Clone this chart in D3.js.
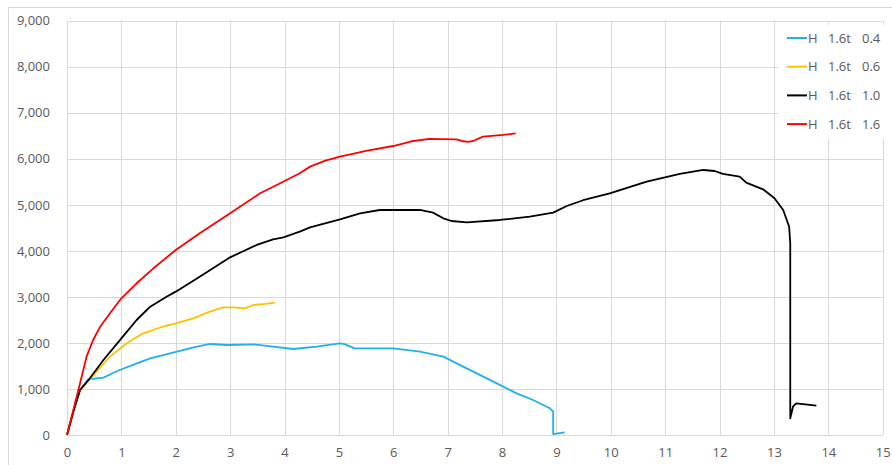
<!DOCTYPE html>
<html><head><meta charset="utf-8">
<script src="https://cdn.jsdelivr.net/npm/d3@7"></script>
<style>body{margin:0;background:#fff}svg{display:block}text{font-family:"Open Sans","Noto Sans",sans-serif}</style>
</head><body>
<script>
const xTicks = d3.range(0, 16, 1);
const yTicks = d3.range(0, 10000, 1000);
const seriesNames = ["H  1.6t  0.4", "H  1.6t  0.6", "H  1.6t  1.0", "H  1.6t  1.6"];
const seriesColors = ["#1fb0ec", "#ffc000", "#000000", "#ff0000"];

const s04 = [[0,0],[0.12,520],[0.24,977],[0.39,1210],[0.67,1246],[0.8,1320],[0.97,1412],[1.25,1540],[1.53,1666],[2.02,1810],[2.35,1910],[2.63,1977],[2.94,1955],[3.43,1970],[3.79,1919],[4.16,1868],[4.59,1919],[5.02,1992],[5.1,1975],[5.29,1883],[6.0,1883],[6.49,1810],[6.92,1702],[7.35,1448],[7.84,1159],[8.27,905],[8.57,760],[8.88,580],[8.94,507],[8.94,20],[9.15,58]];
const s06 = [[0,0],[0.12,520],[0.24,977],[0.42,1210],[0.6,1450],[0.79,1702],[1.10,1992],[1.40,2209],[1.7,2330],[2.0,2426],[2.32,2535],[2.6,2670],[2.87,2774],[3.06,2774],[3.27,2752],[3.43,2824],[3.65,2850],[3.82,2875]];
const s10 = [[0,0],[0.12,520],[0.24,977],[0.42,1231],[0.67,1629],[1.0,2100],[1.28,2498],[1.53,2788],[1.83,3005],[2.0,3114],[2.44,3440],[3.0,3860],[3.49,4128],[3.79,4251],[3.98,4294],[4.28,4417],[4.47,4511],[5.02,4686],[5.39,4816],[5.75,4888],[6.49,4888],[6.73,4830],[6.92,4707],[7.07,4649],[7.35,4620],[7.96,4671],[8.51,4743],[8.94,4830],[9.19,4975],[9.49,5100],[9.98,5250],[10.66,5504],[11.27,5671],[11.70,5757],[11.91,5735],[12.06,5671],[12.37,5612],[12.49,5482],[12.80,5337],[13.01,5142],[13.17,4888],[13.28,4525],[13.30,4164],[13.30,363],[13.35,615],[13.41,688],[13.78,637]];
const s16 = [[0,0],[0.12,560],[0.24,1123],[0.36,1702],[0.48,2064],[0.61,2353],[0.79,2643],[1.0,2970],[1.28,3296],[1.59,3621],[2.0,4019],[2.44,4381],[3.0,4816],[3.55,5251],[3.92,5468],[4.28,5685],[4.47,5830],[4.75,5960],[5.02,6046],[5.5,6170],[6.0,6278],[6.37,6387],[6.67,6431],[7.16,6423],[7.26,6387],[7.38,6366],[7.47,6387],[7.65,6482],[8.02,6518],[8.25,6554]];
const seriesData = [s04, s06, s10, s16];

const W = 892, H = 465;
const m = {left: 67, right: 892-882.7, top: 20.7, bottom: 465-435};
const svg = d3.select("body").append("svg").attr("width", W).attr("height", H);
svg.append("rect").attr("x", 8.5).attr("y", 7.5).attr("width", W).attr("height", H).attr("fill", "none").attr("stroke", "#d9d9d9");

const x = d3.scaleLinear().domain([0, 15]).range([m.left, W - m.right]);
const y = d3.scaleLinear().domain([0, 9000]).range([H - m.bottom, m.top]);

const g = svg.append("g");
g.selectAll("line.v").data(xTicks).join("line").attr("class","v")
  .attr("x1", d => Math.round(x(d)) + 0.5).attr("x2", d => Math.round(x(d)) + 0.5)
  .attr("y1", y(9000)).attr("y2", y(0)).attr("stroke", "#d9d9d9").attr("stroke-width", 1);
g.selectAll("line.h").data(yTicks).join("line").attr("class","h")
  .attr("y1", d => Math.round(y(d)) + 0.5).attr("y2", d => Math.round(y(d)) + 0.5)
  .attr("x1", x(0)).attr("x2", x(15)).attr("stroke", "#d9d9d9").attr("stroke-width", 1);

const fmt = d3.format(",");
const xAxis = svg.append("g").attr("transform", `translate(0,${H - m.bottom})`)
  .call(d3.axisBottom(x).tickValues(xTicks).tickSize(0).tickPadding(13).tickFormat(d3.format("d")));
xAxis.select(".domain").remove();
xAxis.selectAll("text").attr("fill", "#595959").style("font-size", "13px");

const yAxis = svg.append("g").attr("transform", `translate(${m.left},0)`)
  .call(d3.axisLeft(y).tickValues(yTicks).tickSize(0).tickPadding(17).tickFormat(fmt));
yAxis.select(".domain").remove();
yAxis.selectAll("text").attr("fill", "#595959").style("font-size", "13px");

const lineL = d3.line().x(d => x(d[0])).y(d => y(d[1]));
seriesData.forEach((s, i) => {
  svg.append("path").datum(s).attr("d", lineL).attr("fill", "none")
    .attr("stroke", seriesColors[i]).attr("stroke-width", 1.8).attr("stroke-linejoin", "round");
});

// legend
const lg = svg.append("g");
lg.append("rect").attr("x", 778).attr("y", 25).attr("width", 120).attr("height", 114).attr("fill", "#fff");
const partX = [808, 828, 862];
seriesNames.forEach((n, i) => {
  const yy = 38 + i * 28.7;
  lg.append("line").attr("x1", 787).attr("x2", 807).attr("y1", yy).attr("y2", yy)
    .attr("stroke", seriesColors[i]).attr("stroke-width", 2);
  const t = lg.append("text").attr("y", yy).attr("dy", "0.35em")
    .attr("fill", "#595959").style("font-size", "13px");
  n.split(/\s+/).forEach((p, j) => t.append("tspan").attr("x", partX[j]).text(p));
});
</script>
</body></html>
